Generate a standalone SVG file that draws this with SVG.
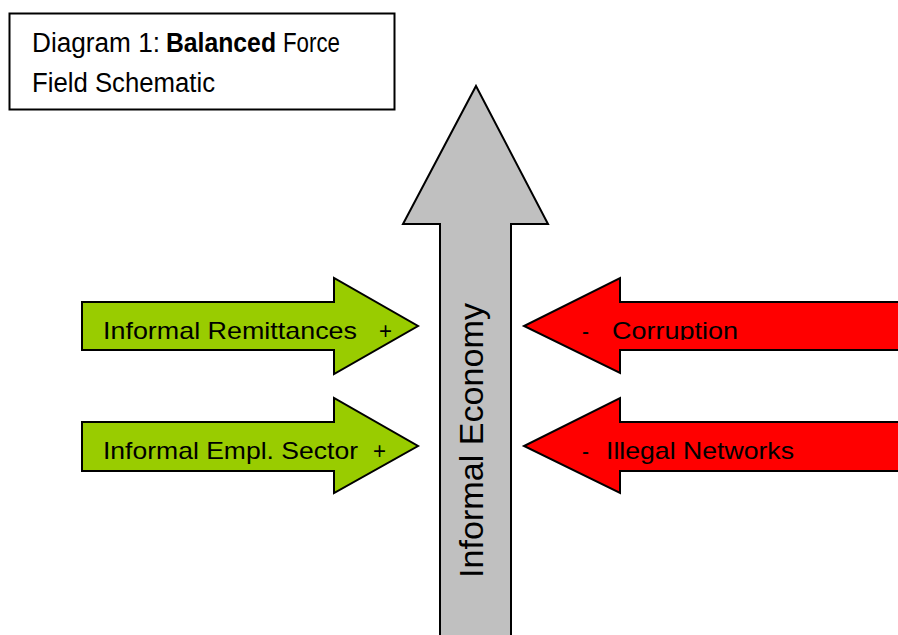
<svg xmlns="http://www.w3.org/2000/svg" width="898" height="635" viewBox="0 0 898 635">
<style>
.t{font-family:"Liberation Sans",Arial,sans-serif;fill:#000}
.ln{stroke:#000;stroke-width:2;stroke-linejoin:miter}
.g{fill:#99CC00}
.r{fill:#FF0000}
</style>
<defs>
<clipPath id="clipC"><rect x="500" y="290" width="398" height="50"/></clipPath>
</defs>
<rect width="898" height="635" fill="#fff"/>
<g id="title">
<rect x="9.5" y="13.5" width="385" height="96" fill="#fff" class="ln"/>
<text class="t" font-size="27" y="52"><tspan x="32" textLength="128" lengthAdjust="spacingAndGlyphs">Diagram 1:</tspan><tspan x="166" font-weight="bold" textLength="110" lengthAdjust="spacingAndGlyphs">Balanced</tspan><tspan x="283" textLength="57" lengthAdjust="spacingAndGlyphs">Force</tspan></text>
<text class="t" font-size="27" x="32" y="92" textLength="183" lengthAdjust="spacingAndGlyphs">Field Schematic</text>
</g>
<g id="informal-economy">
<polygon class="ln" fill="#C0C0C0" points="476,86 548,224 511,224 511,640 440,640 440,224 403,224"/>
<text class="t" font-size="34" transform="translate(483,578) rotate(-90)" textLength="275" lengthAdjust="spacingAndGlyphs">Informal Economy</text>
</g>
<g id="connectors">
<g id="informal-remittances">
<polygon class="ln g" points="82,302 334,302 334,278 418,326 334,374 334,350 82,350"/>
<text class="t" font-size="24" x="103" y="339" textLength="254" lengthAdjust="spacingAndGlyphs">Informal Remittances</text>
<text class="t" font-size="24" x="379" y="339" textLength="13" lengthAdjust="spacingAndGlyphs">+</text>
</g>
<g id="informal-empl-sector">
<polygon class="ln g" points="82,422 334,422 334,398 418,446 334,493 334,471 82,471"/>
<text class="t" font-size="24" x="103" y="459" textLength="255" lengthAdjust="spacingAndGlyphs">Informal Empl. Sector</text>
<text class="t" font-size="24" x="373" y="459" textLength="13" lengthAdjust="spacingAndGlyphs">+</text>
</g>
<g id="corruption">
<polygon class="ln r" points="905,302 620,302 620,278 524,326 620,373 620,350 905,350"/>
<g clip-path="url(#clipC)">
<text class="t" font-size="24" x="582" y="339" textLength="7" lengthAdjust="spacingAndGlyphs">-</text>
<text class="t" font-size="24" x="612" y="339" textLength="126" lengthAdjust="spacingAndGlyphs">Corruption</text>
</g>
</g>
<g id="illegal-networks">
<polygon class="ln r" points="905,422 620,422 620,398 524,446 620,493 620,471 905,471"/>
<text class="t" font-size="24" x="582" y="459" textLength="7" lengthAdjust="spacingAndGlyphs">-</text>
<text class="t" font-size="24" x="606" y="459" textLength="188" lengthAdjust="spacingAndGlyphs">Illegal Networks</text>
</g>
</g>
</svg>
